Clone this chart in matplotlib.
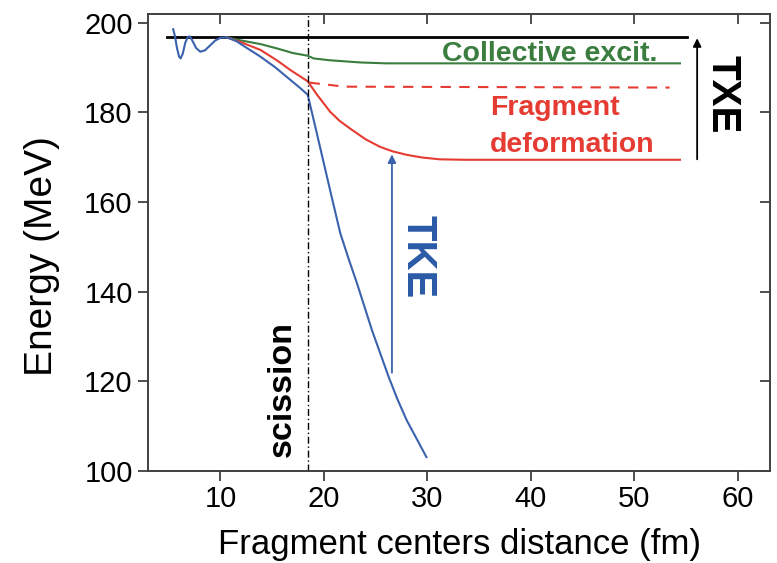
import matplotlib
matplotlib.use("Agg")
import matplotlib.pyplot as plt
from matplotlib.lines import TICKDOWN, TICKLEFT

plt.rcParams['font.family'] = ['Liberation Sans', 'DejaVu Sans']

# curves: (distance fm, energy MeV)
blue_x = [5.43, 5.6, 5.8, 6.0, 6.15, 6.35, 6.6, 6.85, 7.05, 7.3, 7.65, 8.05, 8.5, 9.0, 9.5, 10.0, 10.6,
          11.5, 12.5, 13.86, 15.3, 16.76, 17.7, 18.43, 19.2, 20.14, 20.85, 21.58, 22.4, 23.2,
          24.64, 26.25, 27.1, 28.0, 29.0, 29.9]
blue_y = [198.5, 197.0, 194.3, 192.4, 192.0, 193.0, 195.5, 196.8, 196.9, 195.9, 194.3, 193.5, 193.8, 194.9, 196.0, 196.6, 196.7,
          195.9, 194.4, 192.4, 190.0, 187.2, 185.4, 183.9, 176.4, 167.1, 160.1, 153.0, 147.2, 141.8,
          131.4, 121.0, 116.0, 111.3, 107.0, 103.1]

green_x = [10.6, 12.0, 13.86, 15.5, 17.0, 18.43, 19.0, 20.5, 23.5, 26.0, 54.4]
green_y = [196.7, 196.0, 195.2, 194.2, 193.2, 192.6, 192.0, 191.6, 191.1, 190.9, 190.9]

red_x = [10.6, 12.0, 13.86, 15.5, 16.76, 18.43, 19.3, 20.6, 21.5, 22.5, 24.0, 25.4, 26.6,
         28.0, 29.5, 31.2, 33.5, 36.1, 54.4]
red_y = [196.7, 195.6, 193.9, 191.5, 189.4, 186.9, 184.0, 180.1, 178.1, 176.4, 174.0, 172.3, 171.3,
         170.5, 169.9, 169.5, 169.4, 169.4, 169.4]

red_dash_x = [18.6, 22.0, 53.4]
red_dash_y = [186.6, 185.7, 185.5]

txe_x = [4.86, 55.05]
txe_y = [196.7, 196.7]

scission_x = 18.43

xticks = [10, 20, 30, 40, 50, 60]
yticks = [100, 120, 140, 160, 180, 200]

BLUE = '#3a62ad'
GREEN = '#3a7d3e'
RED = '#e53b32'

fig = plt.figure(figsize=(7.77, 5.63), dpi=100)
ax = fig.add_axes([0.1905, 0.1634, 0.8005, 0.8117])

ax.plot(txe_x, txe_y, color='black', lw=2.0)
ax.plot(green_x, green_y, color=GREEN, lw=1.5)
ax.plot(red_dash_x, red_dash_y, color=RED, lw=1.5, dashes=(5, 4))
ax.plot(red_x, red_y, color=RED, lw=1.5)
ax.plot(blue_x, blue_y, color=BLUE, lw=1.5)

ax.axvline(scission_x, color='black', lw=1.0, linestyle=(0, (5, 2, 1, 2)))

# arrows
ax.annotate('', xy=(56.06, 196.5), xytext=(56.06, 169.5),
            arrowprops=dict(arrowstyle='-|>', color='black', lw=1.3,
                            mutation_scale=12, shrinkA=0, shrinkB=0))
ax.annotate('', xy=(26.57, 170.6), xytext=(26.57, 121.9),
            arrowprops=dict(arrowstyle='-|>', color=BLUE, lw=1.3,
                            mutation_scale=12, shrinkA=0, shrinkB=0))

# labels in the plot
ax.text(31.4, 191.5, 'Collective excit.', color=GREEN, fontsize=20.5,
        fontweight='bold', ha='left', va='baseline')
ax.text(36.06, 179.4, 'Fragment', color=RED, fontsize=20.5,
        fontweight='bold', ha='left', va='baseline')
ax.text(36.06, 171.2, 'deformation', color=RED, fontsize=20.5,
        fontweight='bold', ha='left', va='baseline')
ax.text(57.46, 184.0, 'TXE', color='black', fontsize=29, fontweight='bold',
        rotation=-90, rotation_mode='anchor', ha='center', va='baseline')
ax.text(28.0, 147.8, 'TKE', color='#2a5aa6', fontsize=30, fontweight='bold',
        rotation=-90, rotation_mode='anchor', ha='center', va='baseline')
ax.text(16.76, 118.2, 'scission', color='black', fontsize=24.5, fontweight='bold',
        rotation=90, rotation_mode='anchor', ha='center', va='baseline')

ax.set_xlim(3, 63.1)
ax.set_ylim(100, 201.9)
ax.set_xticks(xticks)
ax.set_yticks(yticks)

for side in ax.spines.values():
    side.set_color('#404040')
    side.set_linewidth(1.4)

ax.tick_params(axis='both', which='major', labelsize=21, width=1.3,
               length=7, color='#404040', direction='out')
ax.tick_params(axis='x', pad=3)
ax.tick_params(axis='y', pad=4)
ax.tick_params(top=True, right=True, labeltop=False, labelright=False)
# ticks on top/right point inward
for t in ax.xaxis.get_major_ticks():
    t.tick2line.set_marker(TICKDOWN)
for t in ax.yaxis.get_major_ticks():
    t.tick2line.set_marker(TICKLEFT)

ax.set_xlabel('Fragment centers distance (fm)', fontsize=25)
ax.set_ylabel('Energy (MeV)', fontsize=28)
ax.xaxis.set_label_coords(0.5, -0.125)
ax.yaxis.set_label_coords(-0.142, 0.470)

fig.savefig('out.png', dpi=100)
plt.close(fig)
